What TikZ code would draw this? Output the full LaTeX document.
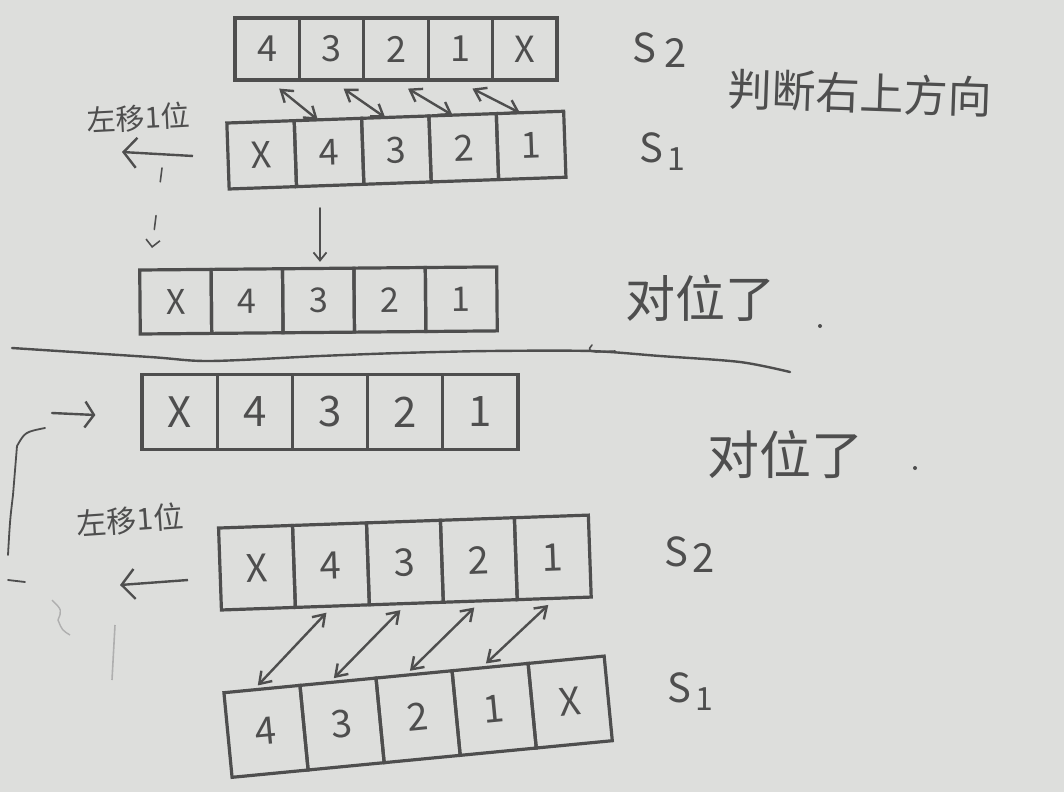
\documentclass[tikz,border=0pt]{standalone}
\usepackage{fontspec}
\newfontfamily\cjk{Noto Sans CJK SC}
\usetikzlibrary{arrows.meta,calc}
\definecolor{paper}{RGB}{221,222,220}
\definecolor{pencil}{RGB}{78,78,78}
\definecolor{faint}{RGB}{175,175,175}
\newcommand\mkrow[8]{%
 \begin{scope}[shift={(#2,#3)},rotate=#6]
 \foreach \lab [count=\i] in {#7}{%
 \node[cell,minimum width=#4pt,minimum height=#5pt,rotate=#6,font=\cjk\fontsize{#8}{#8}\selectfont] (#1\i) at ({(\i-0.5)*#4},0) {\lab};}
 \end{scope}}
\begin{document}
\begin{tikzpicture}[x=1pt,y=1pt,
 cell/.style={draw=pencil,line width=3.2pt,inner sep=0pt,text=pencil},
 dbl/.style={draw=pencil,line width=2.4pt,{Straight Barb[length=11pt,width=15pt]}-{Straight Barb[length=11pt,width=15pt]}},
 arr/.style={draw=pencil,line width=2.4pt,-{Straight Barb[length=13pt,width=30pt]}},
 pen/.style={draw=pencil,line width=2.4pt,line cap=round},
 lbl/.style={text=pencil,inner sep=0pt}]
\path[use as bounding box,fill=paper] (0,0) rectangle (1064,-792);

% rows
\mkrow{a}{235}{-49}{64.4}{62}{0}{4,3,2,1,X}{36}
\mkrow{b}{228}{-156}{67.4}{66}{2}{X,4,3,2,1}{36}
\mkrow{c}{140}{-302}{71.4}{64}{0.5}{X,4,3,2,1}{34}
\mkrow{d}{142}{-412}{75.2}{75}{0}{X,4,3,2,1}{42}
\mkrow{e}{220}{-569}{74}{82}{2}{X,4,3,2,1}{38}
\mkrow{f}{228}{-735}{76.4}{85}{5.5}{4,3,2,1,X}{38}

% arrows S2 <-> S1 (top)
\foreach \i/\j in {1/2,2/3,3/4,4/5}
 \draw[dbl] ([xshift=12pt,yshift=-7pt]a\i.south) -- ([xshift=-10pt,yshift=-2pt]b\j.north);
% arrows S2 <-> S1 (bottom)
\foreach \i/\j in {1/2,2/3,3/4,4/5}
 \draw[dbl] ([xshift=-4pt,yshift=2pt]f\i.north) -- ([xshift=-6pt,yshift=-5pt]e\j.south);

% labels
\node[lbl,font=\cjk\fontsize{40}{40}\selectfont] (s2a) at (660,-50) {S\hspace{8pt}\raisebox{-5pt}{2}};
\node[lbl,font=\cjk\fontsize{40}{40}\selectfont] (s1a) at (662,-152) {S\hspace{4pt}\raisebox{-8pt}{\fontsize{32}{32}\selectfont 1}};
\node[lbl,font=\cjk\fontsize{40}{40}\selectfont] (s2b) at (690,-555) {S\hspace{4pt}\raisebox{-6pt}{2}};
\node[lbl,font=\cjk\fontsize{40}{40}\selectfont] (s1b) at (690,-692) {S\hspace{4pt}\raisebox{-8pt}{\fontsize{32}{32}\selectfont 1}};
\node[lbl,font=\cjk\fontsize{44}{44}\selectfont,rotate=-2] (judge) at (860,-93) {判断右上方向};
\node[lbl,font=\cjk\fontsize{29}{29}\selectfont,rotate=3] (shift1) at (138,-118) {左移1位};
\node[lbl,font=\cjk\fontsize{30}{30}\selectfont,rotate=4] (shift2) at (130,-520) {左移1位};
\node[lbl,font=\cjk\fontsize{50}{50}\selectfont] (ok1) at (700,-298) {对位了};
\node[lbl,font=\cjk\fontsize{52}{52}\selectfont] (ok2) at (785,-455) {对位了};
\fill[pencil] (820,-326) circle (2pt);
\fill[pencil] (915,-468) circle (2pt);

% top left shift arrow and dashed down arrow
\coordinate (la1) at (193,-156);
\coordinate (la2) at (122,-152);
\draw[arr] (la1) -- (la2);
\coordinate (dd1) at (162,-168);
\coordinate (dd2) at (152,-248);
\draw[pen,line width=1.6pt,dash pattern=on 14pt off 34pt,-{Straight Barb[length=7pt,width=14pt]}] (dd1) -- (dd2);
\coordinate (dn1) at (320,-208);
\draw[pen,line width=1.8pt,-{Straight Barb[length=8pt,width=13pt]}] (dn1) -- ([yshift=5pt]c3.north -| dn1);

% divider
\draw[pen] plot[smooth] coordinates {(12,-348) (150,-357) (210,-361) (320,-356) (400,-353) (490,-351) (590,-351) (660,-356) (740,-362) (790,-372)};
\draw[pen,line width=1.6pt] (592,-345) .. controls (588,-350) .. (596,-352) -- (615,-351);

% lower left bracket and arrows
\coordinate (br1) at (52,-413);
\draw[pen,-{Straight Barb[length=9pt,width=26pt]}] (br1) -- ([xshift=-45pt,yshift=-3pt]d1.west);
\draw[pen,line width=1.8pt] (45,-428) .. controls (25,-432) .. (17,-446) -- (13,-495) .. controls (10,-520) .. (8,-555);
\draw[pen,line width=1.8pt] (8,-580) -- (25,-582);
\coordinate (lb1) at (188,-580);
\coordinate (lb2) at (120,-585);
\draw[arr] (lb1) -- (lb2);
\draw[faint,line width=1.6pt] (115,-625) -- (112,-680);
\draw[faint,line width=1.4pt] (52,-600) .. controls (62,-610) .. (58,-620) .. controls (62,-630) .. (70,-635);
\end{tikzpicture}
\end{document}
